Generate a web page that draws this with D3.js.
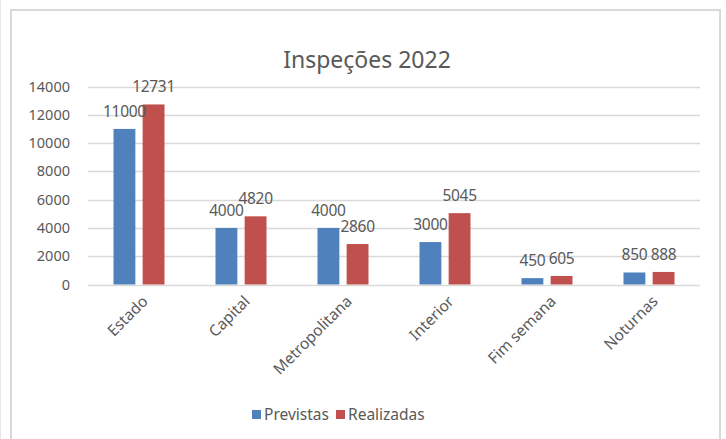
<!DOCTYPE html>
<html>
<head>
    <meta charset="utf-8">
    <title>Inspeções 2022</title>
    <script src="https://d3js.org/d3.v7.min.js"></script>
    <style>
        body { margin: 0; background: #fff; }
        text { font-family: "Noto Sans", "Open Sans", sans-serif; fill: #595959; }
    </style>
</head>
<body>
    <svg width="726" height="439"></svg>

    <script>
        // dados
        const categorias = ["Estado", "Capital", "Metropolitana", "Interior", "Fim semana", "Noturnas"];
        const previstas = [11000, 4000, 4000, 3000, 450, 850];
        const realizadas = [12731, 4820, 2860, 5045, 605, 888];
        const series = ["Previstas", "Realizadas"];
        const cores = ["#4f81bd", "#c0504d"];
        const yTicks = [0, 2000, 4000, 6000, 8000, 10000, 12000, 14000];

        const svg = d3.select("svg");

        // moldura
        svg.append("line").attr("x1", 0.5).attr("x2", 0.5).attr("y1", 0).attr("y2", 439)
            .attr("stroke", "#e6e6e6");
        svg.append("rect")
            .attr("x", 11).attr("y", 10).attr("width", 709).attr("height", 450)
            .attr("fill", "none").attr("stroke", "#d9d9d9").attr("stroke-width", 2);

        const margem = { left: 88, right: 700, top: 86.5, bottom: 284.5 };

        const x = d3.scaleBand().domain(categorias).range([margem.left, margem.right]);
        const x1 = d3.scaleBand().domain(series).range([0, 51]).paddingInner(0.25);
        const y = d3.scaleLinear().domain([0, 14000]).range([margem.bottom, margem.top]);

        // título
        svg.append("text")
            .attr("x", 367).attr("y", 68)
            .attr("text-anchor", "middle")
            .style("font-size", "23px")
            .text("Inspeções 2022");

        // grelha
        svg.append("g").selectAll("line")
            .data(yTicks)
            .enter().append("line")
            .attr("x1", margem.left).attr("x2", margem.right)
            .attr("y1", d => Math.round(y(d)) + 0.5).attr("y2", d => Math.round(y(d)) + 0.5)
            .attr("stroke", "#d9d9d9").attr("stroke-width", 1.5);

        // eixo y
        svg.append("g").selectAll("text")
            .data(yTicks)
            .enter().append("text")
            .attr("x", 70).attr("y", d => y(d))
            .attr("dy", "0.35em")
            .attr("text-anchor", "end")
            .style("font-size", "14.5px")
            .text(d => d);

        const dados = categorias.map((c, i) => ({ cat: c, vals: [previstas[i], realizadas[i]] }));
        const off = (x.bandwidth() - 51) / 2;

        const grupos = svg.append("g").selectAll("g")
            .data(dados)
            .enter().append("g")
            .attr("transform", d => `translate(${x(d.cat) + off},0)`);

        grupos.selectAll("rect")
            .data(d => d.vals.map((v, j) => ({ s: series[j], v: v, j: j })))
            .enter().append("rect")
            .attr("x", d => x1(d.s))
            .attr("width", x1.bandwidth())
            .attr("y", d => y(d.v))
            .attr("height", d => y(0) - y(d.v))
            .attr("fill", d => cores[d.j]);

        // rótulos de dados
        grupos.selectAll("text")
            .data(d => d.vals.map((v, j) => ({ s: series[j], v: v })))
            .enter().append("text")
            .attr("x", d => x1(d.s) + x1.bandwidth() / 2)
            .attr("y", d => y(d.v) - 12)
            .attr("text-anchor", "middle")
            .style("font-size", "15.5px")
            .style("letter-spacing", "-0.3px")
            .text(d => d.v);

        // rótulos do eixo x
        svg.append("g").selectAll("text")
            .data(categorias)
            .enter().append("text")
            .attr("transform", d => `translate(${x(d) + x.bandwidth() / 2 + 6},${margem.bottom + 14}) rotate(-45)`)
            .attr("text-anchor", "end")
            .attr("dy", "0.35em")
            .style("font-size", "15.5px")
            .text(d => d);

        // legenda
        const legenda = svg.append("g").attr("transform", "translate(252,410)");
        const itens = legenda.selectAll("g")
            .data(series)
            .enter().append("g")
            .attr("transform", (d, i) => `translate(${i * 84},0)`);
        itens.append("rect")
            .attr("width", 9).attr("height", 9)
            .attr("fill", (d, i) => cores[i]);
        itens.append("text")
            .attr("x", 12).attr("y", 4.5)
            .attr("dy", "0.35em")
            .style("font-size", "15.5px")
            .text(d => d);
    </script>
</body>
</html>
